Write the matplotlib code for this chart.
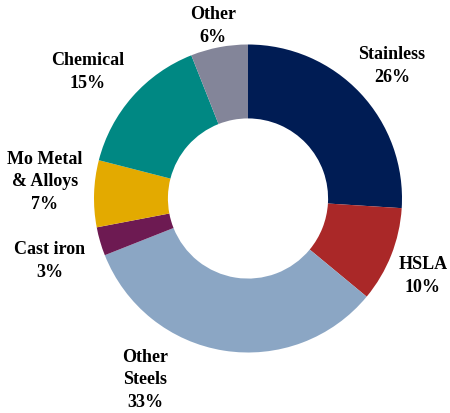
import matplotlib
matplotlib.use("Agg")
import matplotlib.pyplot as plt

# Molybdenum end-use shares (%), clockwise from 12 o'clock
labels = ["Stainless", "HSLA", "Other\nSteels", "Cast iron", "Mo Metal\n& Alloys", "Chemical", "Other"]
shares = [26, 10, 33, 3, 7, 15, 6]
colors = ["#001C54", "#AA2828", "#8BA6C4", "#6D1A52", "#E3AA00", "#008883", "#838599"]

# label centres in pixel space (x, y from top)
label_pos = [(392, 66), (423, 276), (145, 380), (50, 261), (45, 182), (88, 72), (213, 26)]

W, H = 450, 413
fig = plt.figure(figsize=(W / 100, H / 100), dpi=100)
ax = fig.add_axes([0, 0, 1, 1])

ax.pie(shares, colors=colors, startangle=90, counterclock=False,
       center=(248, H - 198.5), radius=154,
       wedgeprops=dict(width=154 * 0.48, linewidth=0))

# pie() resets the limits, so set them afterwards
ax.set_xlim(0, W)
ax.set_ylim(0, H)
ax.set_aspect("equal")
ax.axis("off")

for lab, val, (x, y) in zip(labels, shares, label_pos):
    ax.text(x, H - y, f"{lab}\n{val}%", ha="center", va="center",
            family="Liberation Serif", fontweight="bold", fontsize=13,
            linespacing=1.4)

fig.savefig("out.png", dpi=100)
